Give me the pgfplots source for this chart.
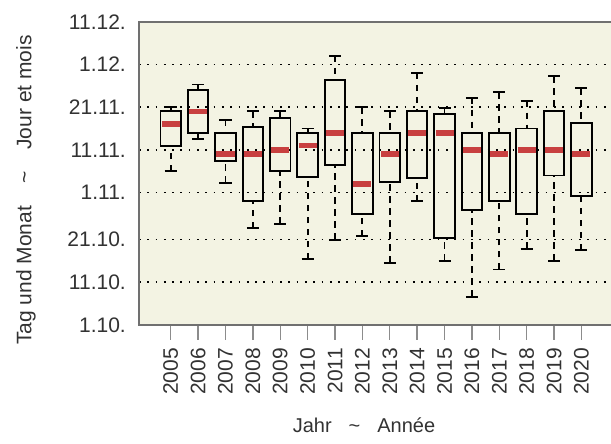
\documentclass[border=0pt]{standalone}
\usepackage{fontspec}
\setmainfont{Liberation Sans}
\usepackage{pgfplots}
\pgfplotsset{compat=1.18}
\usepgfplotslibrary{statistics}

\definecolor{bgcream}{RGB}{243,243,227}
\definecolor{framegray}{RGB}{112,112,112}
\definecolor{tickgray}{RGB}{140,140,140}
\definecolor{medred}{RGB}{200,64,64}
\definecolor{txtgray}{RGB}{50,50,50}

\begin{document}
\begin{tikzpicture}
\begin{axis}[
  scale only axis,
  width=472pt, height=303.3pt,
  xmin=-1.16, xmax=16.08,
  ymin=0, ymax=71,
  clip=false,
  axis background/.style={fill=bgcream},
  axis line style={draw=none},
  tick align=outside,
  major tick length=15pt,
  xtick pos=bottom, ytick pos=left,
  xtick={0,1,2,3,4,5,6,7,8,9,10,11,12,13,14,15},
  xticklabels={2005,2006,2007,2008,2009,2010,2011,2012,2013,2014,2015,2016,2017,2018,2019,2020},
  xtick style={draw=tickgray, line width=1.4pt},
  xticklabel style={rotate=90, anchor=east, inner sep=8pt},
  ytick={0,10,20,31,41,51,61,71},
  yticklabels={1.10.,11.10.,21.10.,1.11.,11.11.,21.11.,1.12.,11.12.},
  ytick style={draw=none},
  yticklabel style={anchor=east, inner sep=0pt, xshift=2pt},
  tick label style={font=\fontsize{21}{21}\selectfont, text=txtgray},
  ymajorgrids=true,
  major grid style={draw=black, line width=1.7pt, dash pattern=on 1.7pt off 6.6pt},
  xlabel={Jahr\hspace{17pt}\textasciitilde\hspace{17pt}Année},
  xlabel style={at={(axis description cs:0.4767,-0.356)}, anchor=base, font=\fontsize{20}{20}\selectfont, text=txtgray},
  ylabel={Tag und Monat\hspace{22pt}\textasciitilde\hspace{22pt}Jour et mois},
  ylabel style={at={(axis description cs:-0.2394,0.445)}, anchor=center, font=\fontsize{21}{21}\selectfont, text=txtgray},
  boxplot/draw direction=y,
  boxplot/box extend=0.75,
  boxplot/whisker extend=0.44,
  boxplot/every box/.style={draw=black, line width=1.9pt},
  boxplot/draw/median/.code={%
    \draw[medred, line width=5.5pt]
      (boxplot box cs:\pgfplotsboxplotvalue{median},0.06) --
      (boxplot box cs:\pgfplotsboxplotvalue{median},0.94);
  },
  boxplot/draw/lower whisker/.code={%
    \draw[black, line width=1.9pt, dash pattern=on 6.5pt off 5.5pt]
      (boxplot box cs:\pgfplotsboxplotvalue{lower whisker},0.5) --
      (boxplot box cs:\pgfplotsboxplotvalue{lower quartile},0.5);
    \draw[black, line width=1.9pt]
      (boxplot whisker cs:\pgfplotsboxplotvalue{lower whisker},0) --
      (boxplot whisker cs:\pgfplotsboxplotvalue{lower whisker},1);
  },
  boxplot/draw/upper whisker/.code={%
    \draw[black, line width=1.9pt, dash pattern=on 6.5pt off 5.5pt]
      (boxplot box cs:\pgfplotsboxplotvalue{upper whisker},0.5) --
      (boxplot box cs:\pgfplotsboxplotvalue{upper quartile},0.5);
    \draw[black, line width=1.9pt]
      (boxplot whisker cs:\pgfplotsboxplotvalue{upper whisker},0) --
      (boxplot whisker cs:\pgfplotsboxplotvalue{upper whisker},1);
  },
]
% days after 1 October; position 0 = 2005
\addplot[boxplot prepared={draw position=0, lower whisker=36, lower quartile=42, median=47, upper quartile=50, upper whisker=51}] coordinates {};
\addplot[boxplot prepared={draw position=1, lower whisker=43.6, lower quartile=45, median=50, upper quartile=55, upper whisker=56.3}] coordinates {};
\addplot[boxplot prepared={draw position=2, lower whisker=33.3, lower quartile=38.4, median=40, upper quartile=45, upper whisker=48}] coordinates {};
\addplot[boxplot prepared={draw position=3, lower whisker=22.7, lower quartile=29, median=40, upper quartile=46.4, upper whisker=50}] coordinates {};
\addplot[boxplot prepared={draw position=4, lower whisker=23.7, lower quartile=36, median=41, upper quartile=48.4, upper whisker=50}] coordinates {};
\addplot[boxplot prepared={draw position=5, lower whisker=15.4, lower quartile=34.7, median=42, upper quartile=45, upper whisker=46}] coordinates {};
\addplot[boxplot prepared={draw position=6, lower whisker=20, lower quartile=37.4, median=45, upper quartile=57.4, upper whisker=63}] coordinates {};
\addplot[boxplot prepared={draw position=7, lower whisker=20.8, lower quartile=26, median=33, upper quartile=45, upper whisker=51}] coordinates {};
\addplot[boxplot prepared={draw position=8, lower whisker=14.6, lower quartile=33.4, median=40, upper quartile=45, upper whisker=50}] coordinates {};
\addplot[boxplot prepared={draw position=9, lower whisker=29, lower quartile=34.5, median=45, upper quartile=50, upper whisker=59}] coordinates {};
\addplot[boxplot prepared={draw position=10, lower whisker=15, lower quartile=20.4, median=45, upper quartile=49.4, upper whisker=50.7}] coordinates {};
\addplot[boxplot prepared={draw position=11, lower whisker=6.6, lower quartile=27, median=41, upper quartile=45, upper whisker=53.2}] coordinates {};
\addplot[boxplot prepared={draw position=12, lower whisker=13, lower quartile=29, median=40, upper quartile=45, upper whisker=54.5}] coordinates {};
\addplot[boxplot prepared={draw position=13, lower whisker=17.8, lower quartile=26, median=41, upper quartile=46, upper whisker=52.5}] coordinates {};
\addplot[boxplot prepared={draw position=14, lower whisker=15, lower quartile=35, median=41, upper quartile=50, upper whisker=58.2}] coordinates {};
\addplot[boxplot prepared={draw position=15, lower whisker=17.5, lower quartile=30.2, median=40, upper quartile=47.2, upper whisker=55.4}] coordinates {};
% frame: left, top, bottom (right side runs off the picture)
\draw[framegray, line width=1.8pt] (rel axis cs:1,1) -- (rel axis cs:0,1) -- (rel axis cs:0,0) -- (rel axis cs:1,0);
\end{axis}
\pgfresetboundingbox
\path[use as bounding box] (-139pt,-119pt) rectangle (472pt,325pt);
\end{tikzpicture}
\end{document}
